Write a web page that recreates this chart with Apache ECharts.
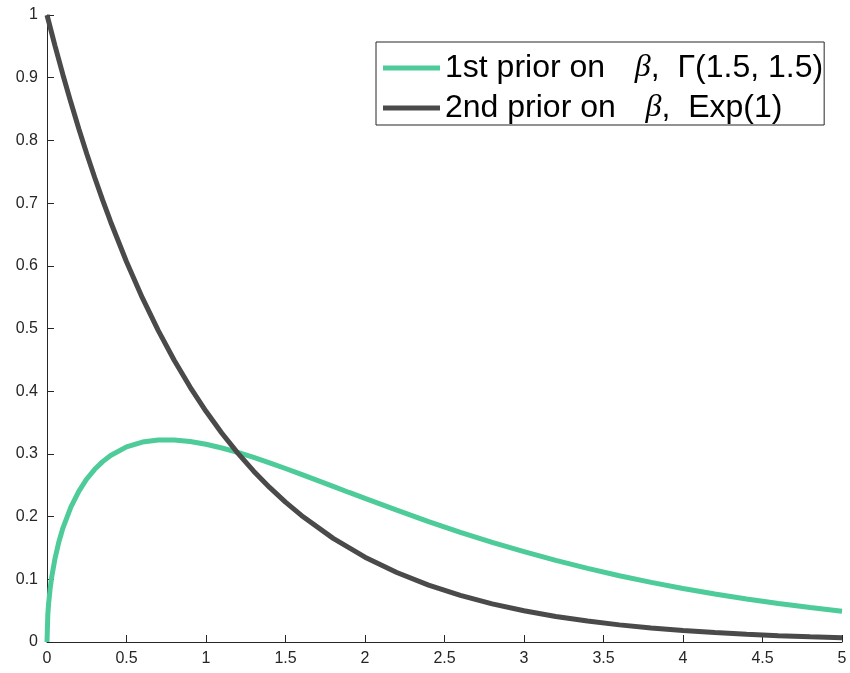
<!DOCTYPE html>
<html>
<head>
<meta charset="utf-8">
<script src="https://cdn.jsdelivr.net/npm/echarts@6/dist/echarts.min.js"></script>
<style>
  html, body { margin: 0; padding: 0; background: #ffffff; }
  #chart { width: 850px; height: 673px; }
</style>
</head>
<body>
<div id="chart"></div>
<script>
// Prior densities on beta
const gammaX = [0, 0.005, 0.01, 0.02, 0.03, 0.05, 0.075, 0.1, 0.15, 0.2, 0.25, 0.3, 0.35, 0.4, 0.5, 0.6, 0.7, 0.8, 0.9,
  1.0, 1.1, 1.2, 1.3, 1.4, 1.5, 1.6, 1.7, 1.8, 1.9, 2.0, 2.2, 2.4, 2.6, 2.8, 3.0, 3.2, 3.4, 3.6, 3.8,
  4.0, 4.2, 4.4, 4.6, 4.8, 5.0];
const gammaY = [0, 0.0433, 0.0610, 0.0857, 0.1043, 0.1328, 0.1600, 0.1817, 0.2152, 0.2404, 0.2600, 0.2754, 0.2877, 0.2975,
  0.3112, 0.3189, 0.3222, 0.3223, 0.3198, 0.3153, 0.3094, 0.3023, 0.2944, 0.2858, 0.2767, 0.2674, 0.2578,
  0.2482, 0.2385, 0.2290, 0.2102, 0.1921, 0.1750, 0.1589, 0.1440, 0.1301, 0.1174, 0.1057, 0.0951,
  0.0854, 0.0765, 0.0686, 0.0614, 0.0549, 0.0490];

const expX = [0, 0.05, 0.1, 0.15, 0.2, 0.25, 0.3, 0.35, 0.4, 0.5, 0.6, 0.7, 0.8, 0.9, 1.0, 1.1, 1.2, 1.3, 1.4,
  1.5, 1.6, 1.8, 2.0, 2.2, 2.4, 2.6, 2.8, 3.0, 3.2, 3.4, 3.6, 3.8, 4.0, 4.2, 4.4, 4.6, 4.8, 5.0];
const expY = [1.0, 0.9512, 0.9048, 0.8607, 0.8187, 0.7788, 0.7408, 0.7047, 0.6703, 0.6065, 0.5488, 0.4966,
  0.4493, 0.4066, 0.3679, 0.3329, 0.3012, 0.2725, 0.2466, 0.2231, 0.2019, 0.1653, 0.1353, 0.1108,
  0.0907, 0.0743, 0.0608, 0.0498, 0.0408, 0.0334, 0.0273, 0.0224, 0.0183, 0.0150, 0.0123, 0.0101,
  0.0082, 0.0067];

const seriesNames = ['1st prior on  β,  Γ(1.5, 1.5)', '2nd prior on  β,  Exp(1)'];
const seriesColors = ['#4dcb98', '#4a4a4a'];

const zip = (xs, ys) => xs.map((x, i) => [x, ys[i]]);

const axisColor = '#262626';
const font = 'Liberation Sans, Arial, sans-serif';

const chart = echarts.init(document.getElementById('chart'), null, { renderer: 'canvas' });
chart.setOption({
  animation: false,
  backgroundColor: '#ffffff',
  grid: { left: 47, right: 8, top: 15, bottom: 31, containLabel: false },
  xAxis: {
    type: 'value', min: 0, max: 5, interval: 0.5,
    axisLine: { show: true, lineStyle: { color: axisColor, width: 1 } },
    axisTick: { show: true, inside: true, length: 7, lineStyle: { color: axisColor } },
    axisLabel: { color: axisColor, fontSize: 16, fontFamily: font, margin: 9 },
    splitLine: { show: false }
  },
  yAxis: {
    type: 'value', min: 0, max: 1, interval: 0.1,
    axisLine: { show: true, lineStyle: { color: axisColor, width: 1 } },
    axisTick: { show: true, inside: true, length: 7, lineStyle: { color: axisColor } },
    axisLabel: { color: axisColor, fontSize: 16, fontFamily: font, margin: 9 },
    splitLine: { show: false }
  },
  legend: {
    orient: 'vertical',
    left: 376, top: 42,
    padding: [10, 1, 1, 7],
    itemGap: 8,
    itemWidth: 57,
    itemHeight: 5,
    icon: 'rect',
    borderColor: axisColor,
    borderWidth: 1,
    backgroundColor: '#ffffff',
    data: seriesNames,
    formatter: function (name) {
      const parts = name.split('β');
      return '{n|' + parts[0] + '}{b|β}{n|' + parts[1] + '}';
    },
    textStyle: {
      color: '#000000',
      rich: {
        n: { fontSize: 32, lineHeight: 34, fontFamily: font, color: '#000000' },
        b: { fontSize: 32, lineHeight: 34, fontFamily: 'Liberation Serif, serif', fontStyle: 'italic',
             color: '#000000', padding: [0, 0, 0, 12] }
      }
    }
  },
  series: [
    {
      name: seriesNames[0], type: 'line', data: zip(gammaX, gammaY),
      showSymbol: false, smooth: false,
      lineStyle: { color: seriesColors[0], width: 5 },
      itemStyle: { color: seriesColors[0] }
    },
    {
      name: seriesNames[1], type: 'line', data: zip(expX, expY),
      showSymbol: false, smooth: false,
      lineStyle: { color: seriesColors[1], width: 5 },
      itemStyle: { color: seriesColors[1] }
    }
  ]
});
</script>
</body>
</html>
